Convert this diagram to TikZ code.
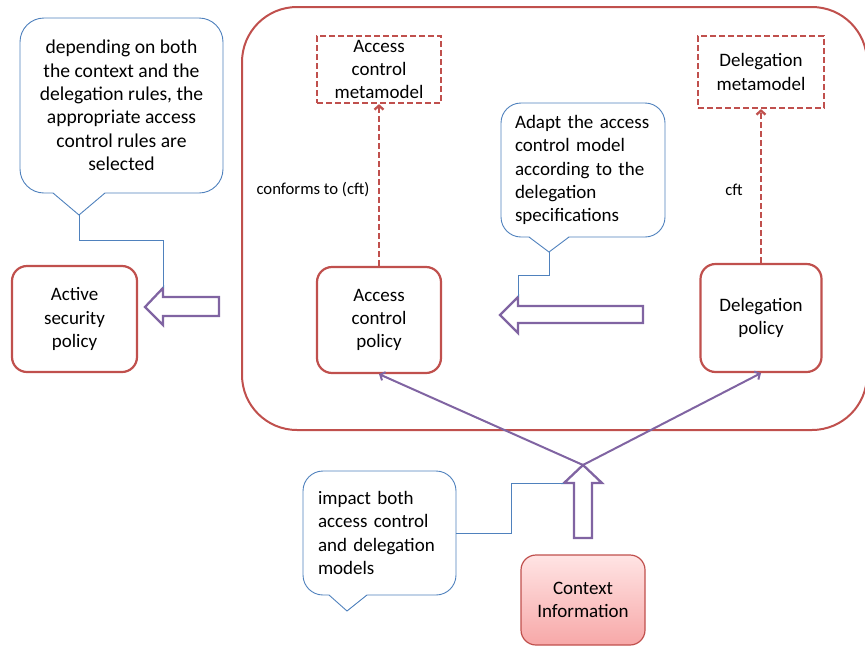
\documentclass[tikz,border=0pt]{standalone}
\usepackage{fontspec}
\setmainfont{Carlito}
\usetikzlibrary{arrows.meta,calc}
\definecolor{ored}{HTML}{C0504D}
\definecolor{opurple}{HTML}{8064A2}
\definecolor{oblue}{HTML}{4F81BD}
\definecolor{ctxtop}{HTML}{FFE4E4}
\definecolor{ctxbot}{HTML}{F7A8A8}
\begin{document}
\begin{tikzpicture}[x=1pt,y=-1pt,
 every node/.style={font=\fontsize{19}{23.3}\selectfont, inner sep=0pt},
 redbox/.style={draw=ored, line width=2.2pt, rounded corners=15pt, fill=white, align=center},
 metabox/.style={draw=ored, line width=2.2pt, dash pattern=on 6pt off 3pt, align=center},
 callout/.style={draw=oblue, line width=0.9pt, rounded corners=22pt, fill=white},
 tailline/.style={draw=oblue, line width=0.9pt},
 blockarrow/.style={draw=opurple, line width=2.3pt, fill=white, line join=miter},
 cftarrow/.style={draw=ored, line width=2.3pt, dash pattern=on 6pt off 3pt, -{Straight Barb[length=4pt,width=9pt]}},
 thinarrow/.style={draw=opurple, line width=2pt, -{Straight Barb[length=4pt,width=9pt]}},
 lbl/.style={font=\fontsize{16.7}{19}\selectfont}
]
\useasboundingbox (0,0) rectangle (865,646);

% container
\draw[ored, line width=2pt, rounded corners=55pt] (242,7) rectangle (867,430);

% left callout
\node[callout, rounded corners=24pt, minimum width=203pt, minimum height=175pt, align=center,
 font=\fontsize{19.6}{23.4}\selectfont] (lc) at (121.5,105.5)
 {depending on both\\the context and the\\delegation rules, the\\appropriate access\\control rules are\\selected};
\fill[white] (52,191.5) -- (106,191.5) -- (79,215) -- cycle;
\draw[tailline] (53,193) -- (79,215) -- (105,193);
\coordinate (lct) at (79,215);

% middle callout
\node[callout, rounded corners=20pt, minimum width=164pt, minimum height=134pt, inner xsep=14pt, text width=136pt, align=left] (mc) at (583,170)
 {Adapt the access\\control model\\according to the\\delegation\\specifications};
\fill[white] (528,235.5) -- (570,235.5) -- (549,252) -- cycle;
\draw[tailline] (529,237) -- (549,252) -- (569,237);
\coordinate (mct) at (549,252);

% bottom callout
\node[callout, rounded corners=20pt, minimum width=153pt, minimum height=124pt, inner xsep=15pt, text width=123pt, align=left] (bc) at (379.5,533)
 {impact both\\access control\\and delegation\\models};
\fill[white] (328,593.5) -- (368,593.5) -- (347,611) -- cycle;
\draw[tailline] (329,595) -- (347,611) -- (367,595);

% boxes
\node[redbox, minimum width=125pt, minimum height=106pt] (asp) at (74.5,319) {Active\\security\\policy};
\node[redbox, minimum width=124pt, minimum height=106pt] (acp) at (379,320) {Access\\control\\policy};
\node[redbox, minimum width=121pt, minimum height=108pt] (dp) at (761,318) {Delegation\\policy};
\node[metabox, minimum width=124pt, minimum height=67pt] (acm) at (379,69.5) {Access\\control\\metamodel};
\node[metabox, minimum width=126pt, minimum height=72pt] (dm) at (761,72) {Delegation\\metamodel};
\node[draw=ored, line width=1.2pt, rounded corners=15pt, top color=ctxtop, bottom color=ctxbot,
 minimum width=124pt, minimum height=90pt, align=center] (ctx) at (583,600) {Context\\Information};

% conformance arrows
\draw[cftarrow] (acp.north) -- (acm.south);
\draw[cftarrow] (dp.north) -- (dm.south);
\node[lbl] (l1) at (313,190) {conforms to (cft)};
\node[lbl] (l2) at (734,190) {cft};

% block arrows
\draw[blockarrow] (145,307) -- (163,288) -- (163,297) -- (219,297) -- (219,316) -- (163,316) -- (163,325) -- cycle;
\coordinate (la) at (163,288);
\draw[blockarrow] (500,315) -- (518,297) -- (518,306) -- (643,306) -- (643,323) -- (518,323) -- (518,333) -- cycle;
\coordinate (ma) at (518,297);
\coordinate (ctip) at (583,465);
\draw[thinarrow] (ctip) -- (acp.south);
\draw[thinarrow] (ctip) -- (dp.south);
\draw[blockarrow] (ctip) -- (602,483) -- (592,483) -- (592,538) -- (574,538) -- (574,483) -- (564,483) -- cycle;
\coordinate (ua) at (564,483);

% callout connectors
\draw[tailline] (lct) -- ++(0,25) -| (la);
\draw[tailline] (mct) -- ++(0,23) -| (ma);
\draw[tailline] (bc.east) -- ++(55,0) |- (ua);
\end{tikzpicture}
\end{document}
